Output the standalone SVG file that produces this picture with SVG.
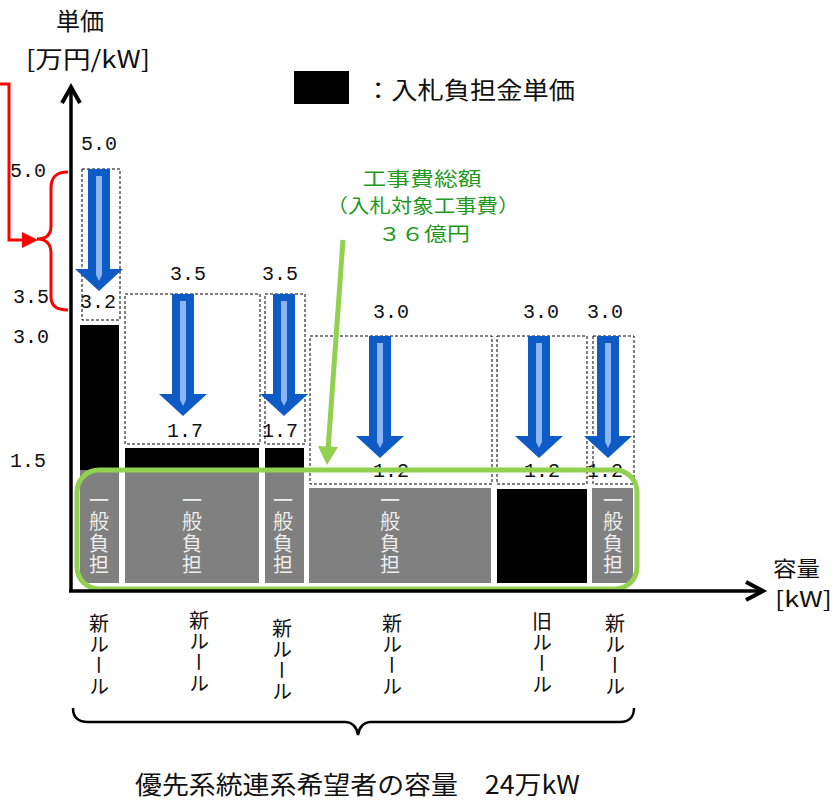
<svg xmlns="http://www.w3.org/2000/svg" xmlns:xlink="http://www.w3.org/1999/xlink" width="839" height="801" viewBox="0 0 839 801">
<style>
.jp{font-family:"Noto Sans CJK JP","Noto Sans",sans-serif;fill:#111}
.num{font-family:"Liberation Mono","DejaVu Sans Mono",monospace;font-size:20px;fill:#111;text-anchor:middle}
.dash{fill:none;stroke:#000;stroke-width:1;stroke-dasharray:3 2}
.gray{fill:#808080}
.blk{fill:#000}
.vlab{font-family:"Noto Sans CJK JP",sans-serif;font-size:20px;fill:#eeeeee;writing-mode:vertical-rl;letter-spacing:1.5px}
.vrule{font-family:"Noto Sans CJK JP",sans-serif;font-size:20px;fill:#111;writing-mode:vertical-rl;letter-spacing:1px}
.green{font-family:"Noto Sans CJK JP",sans-serif;font-size:19px;fill:#1f9a1f;text-anchor:middle}
</style>
<defs>
<g id="barrow">
<path d="M-11,0 H11 V100 H24 L0,122 L-24,100 H-11 Z" fill="#0F5BC6"/>
<path d="M-3,7 H3 V106 L0,112 L-3,106 Z" fill="#8DB4F5"/>
</g>
</defs>
<rect width="839" height="801" fill="#fff"/>

<g id="legend">
<rect x="294" y="71" width="55" height="33" fill="#000"/>
<text class="jp" x="365" y="99" font-size="24" textLength="210" lengthAdjust="spacingAndGlyphs">：入札負担金単価</text>
</g>

<g id="axis-labels">
<text class="jp" x="80" y="30" font-size="24" text-anchor="middle">単価</text>
<text class="jp" x="26" y="68" font-size="24" textLength="124" lengthAdjust="spacingAndGlyphs">[万円/kW]</text>
<text class="jp" x="773" y="576" font-size="21" textLength="47" lengthAdjust="spacingAndGlyphs">容量</text>
<text class="jp" x="775" y="607" font-size="21" textLength="57" lengthAdjust="spacingAndGlyphs">[kW]</text>
</g>

<g id="left-scale">
<text class="num" x="28" y="177">5.0</text>
<text class="num" x="31" y="303">3.5</text>
<text class="num" x="31" y="343">3.0</text>
<text class="num" x="28" y="467">1.5</text>
</g>

<g id="bar1">
<rect class="dash" x="82" y="169" width="38" height="151"/>
<rect class="blk" x="80" y="325" width="39" height="145"/>
<rect class="gray" x="80" y="470" width="39" height="113"/>
<use xlink:href="#barrow" transform="translate(99,169)"/>
<text class="num" x="99" y="150">5.0</text>
<text class="num" x="98" y="308">3.2</text>
<text class="vlab" x="99" y="490">一般負担</text>
</g>

<g id="bar2">
<rect class="dash" x="125" y="294" width="135" height="150"/>
<rect class="blk" x="125" y="448" width="134" height="22"/>
<rect class="gray" x="125" y="470" width="134" height="113"/>
<use xlink:href="#barrow" transform="translate(183,294)"/>
<text class="num" x="188" y="280">3.5</text>
<text class="num" x="185" y="437">1.7</text>
<text class="vlab" x="192" y="490">一般負担</text>
</g>

<g id="bar3">
<rect class="dash" x="265" y="294" width="40" height="150"/>
<rect class="blk" x="265" y="448" width="39" height="22"/>
<rect class="gray" x="265" y="470" width="39" height="113"/>
<use xlink:href="#barrow" transform="translate(284,294)"/>
<text class="num" x="280" y="280">3.5</text>
<text class="num" x="280" y="437">1.7</text>
<text class="vlab" x="283" y="490">一般負担</text>
</g>

<g id="bar4">
<rect class="dash" x="310" y="336" width="182" height="148"/>
<rect class="gray" x="309" y="488" width="182" height="95"/>
<use xlink:href="#barrow" transform="translate(380,336)"/>
<text class="num" x="391" y="318">3.0</text>
<text class="num" x="391" y="477">1.2</text>
<text class="vlab" x="390" y="490">一般負担</text>
</g>

<g id="bar5">
<rect class="dash" x="497" y="336" width="90" height="148"/>
<rect class="blk" x="497" y="489" width="90" height="94"/>
<use xlink:href="#barrow" transform="translate(539,336)"/>
<text class="num" x="541" y="318">3.0</text>
<text class="num" x="542" y="477">1.2</text>
</g>

<g id="bar6">
<rect class="dash" x="593" y="336" width="41" height="148"/>
<rect class="gray" x="592" y="488" width="41" height="95"/>
<use xlink:href="#barrow" transform="translate(608,336)"/>
<text class="num" x="605" y="318">3.0</text>
<text class="num" x="605" y="477">1.2</text>
<text class="vlab" x="613" y="490">一般負担</text>
</g>

<g id="general-burden-frame">
<rect x="77" y="470" width="560" height="119" rx="22" ry="22" fill="none" stroke="#92D050" stroke-width="5"/>
</g>

<g id="total-cost">
<text class="green" x="422" y="186" textLength="119" lengthAdjust="spacingAndGlyphs">工事費総額</text>
<text class="green" x="423" y="213" textLength="193" lengthAdjust="spacingAndGlyphs">（入札対象工事費）</text>
<text class="green" x="424" y="241" textLength="92" lengthAdjust="spacingAndGlyphs">３６億円</text>
</g>

<g id="rule-labels">
<text class="vrule" x="99" y="613">新ルール</text>
<text class="vrule" x="199" y="610">新ルール</text>
<text class="vrule" x="282" y="618">新ルール</text>
<text class="vrule" x="392" y="613">新ルール</text>
<text class="vrule" x="542" y="611">旧ルール</text>
<text class="vrule" x="615" y="613">新ルール</text>
</g>

<g id="total-capacity">
<text class="jp" x="135" y="794" font-size="25" textLength="445" lengthAdjust="spacingAndGlyphs">優先系統連系希望者の容量　24万kW</text>
</g>

<g id="connectors">
<line x1="71" y1="88" x2="71" y2="592" stroke="#000" stroke-width="3.5"/>
<polyline points="62,103 71,87 80,103" fill="none" stroke="#000" stroke-width="4"/>
<line x1="69" y1="591" x2="763" y2="591" stroke="#000" stroke-width="3.5"/>
<polyline points="746,582 763,591 746,600" fill="none" stroke="#000" stroke-width="4"/>
<polyline points="0,84 9,84 9,240 26,240" fill="none" stroke="#FF0000" stroke-width="3"/>
<polygon points="22,232 38,240 22,248" fill="#FF0000"/>
<path d="M68,172 C56,172 51,177 51,188 L51,226 C51,235 46,239 37,239 C46,239 51,244 51,253 L51,297 C51,305 56,310 68,310" fill="none" stroke="#FF0000" stroke-width="3"/>
<line x1="343" y1="240" x2="328" y2="450" stroke="#92D050" stroke-width="5"/>
<polygon points="318,446 338,447 327,465" fill="#92D050"/>
<path d="M73,708 C73,717 78,722 88,722 L345,722 C352,722 357,727 358,735 C359,727 364,722 371,722 L620,722 C629,722 634,717 634,708" fill="none" stroke="#000" stroke-width="2.5"/>
</g>
</svg>
